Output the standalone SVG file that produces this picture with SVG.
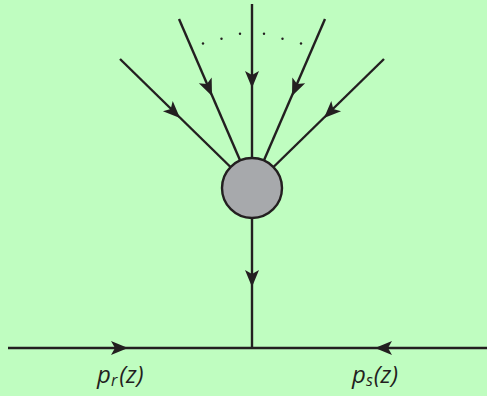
<svg xmlns="http://www.w3.org/2000/svg" xmlns:xlink="http://www.w3.org/1999/xlink" width="487" height="396" viewBox="0 0 487 396">
  <style>
    .ln { stroke: #231f20; stroke-width: 2.4; fill: none; }
    .ah { fill: #231f20; }
    .dot { fill: #231f20; }
    .lbl { font-family: "Open Sans", "DejaVu Sans", sans-serif; font-style: italic; font-size: 24px; fill: #231f20; }
    .sub { font-size: 16px; }
  </style>
  <defs>
    <path id="ah" class="ah" d="M0,0 L-17,-7 L-13,0 L-17,7 Z"/>
  </defs>
  <rect width="487" height="396" fill="#bffdc0"/>
  <g id="connectors">
    <line class="ln" x1="252" y1="4" x2="252" y2="188"/>
    <line class="ln" x1="179" y1="19" x2="252" y2="188"/>
    <line class="ln" x1="325" y1="19" x2="252" y2="188"/>
    <line class="ln" x1="120" y1="59" x2="252" y2="188"/>
    <line class="ln" x1="384" y1="59" x2="252" y2="188"/>
    <line class="ln" x1="252" y1="188" x2="252" y2="348"/>
    <line class="ln" x1="8" y1="348" x2="487" y2="348"/>
    <use xlink:href="#ah" transform="translate(252,88) rotate(90)"/>
    <use xlink:href="#ah" transform="translate(212,96) rotate(66.6)"/>
    <use xlink:href="#ah" transform="translate(292,96) rotate(113.4)"/>
    <use xlink:href="#ah" transform="translate(180,118) rotate(44.3)"/>
    <use xlink:href="#ah" transform="translate(324,118) rotate(135.7)"/>
    <use xlink:href="#ah" transform="translate(252,287) rotate(90)"/>
    <use xlink:href="#ah" transform="translate(128,348)"/>
    <use xlink:href="#ah" transform="translate(375,348) rotate(180)"/>
  </g>
  <g id="dots">
    <circle class="dot" cx="203" cy="43.5" r="1.2"/>
    <circle class="dot" cx="221.5" cy="38.7" r="1.2"/>
    <circle class="dot" cx="240" cy="33.7" r="1.2"/>
    <circle class="dot" cx="264" cy="33.7" r="1.2"/>
    <circle class="dot" cx="282.5" cy="38.7" r="1.2"/>
    <circle class="dot" cx="301" cy="43.5" r="1.2"/>
  </g>
  <g id="vertex">
    <circle cx="252" cy="188" r="30" fill="#a7a9ac" stroke="#231f20" stroke-width="2.4"/>
  </g>
  <g id="label-pr">
    <text class="lbl" x="97" y="383">p<tspan class="sub" dy="3">r</tspan><tspan dx="2" dy="-3">(z)</tspan></text>
  </g>
  <g id="label-ps">
    <text class="lbl" x="352" y="383">p<tspan class="sub" dy="3">s</tspan><tspan dx="1" dy="-3">(z)</tspan></text>
  </g>
</svg>
